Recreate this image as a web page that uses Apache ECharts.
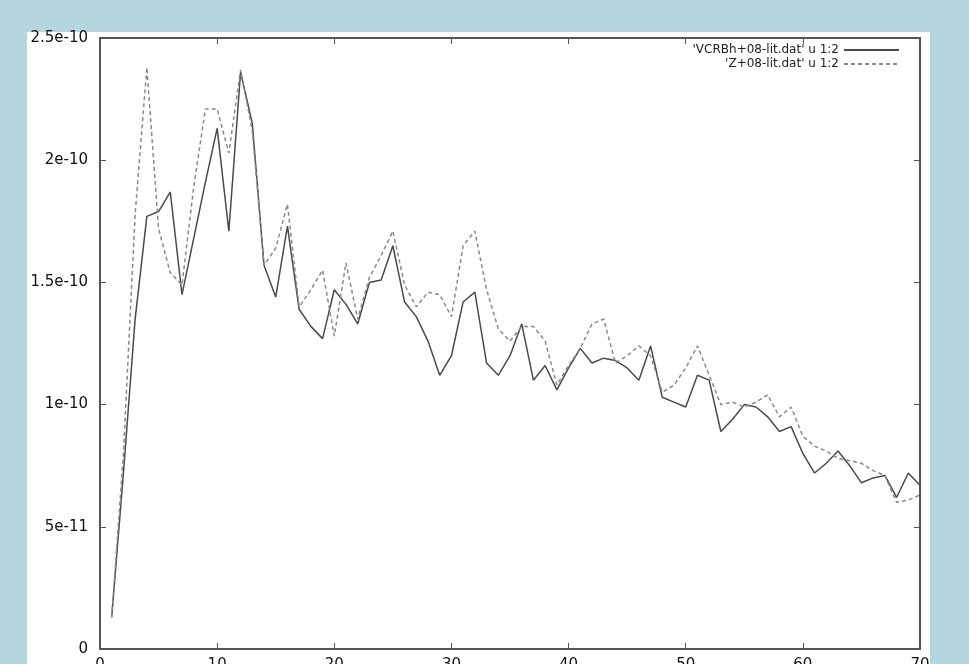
<!DOCTYPE html>
<html>
<head>
<meta charset="utf-8">
<script src="https://cdn.jsdelivr.net/npm/echarts@6/dist/echarts.min.js"></script>
<style>
html,body{margin:0;padding:0;background:#b5d5df;}
#chart{width:969px;height:664px;}
</style>
</head>
<body>
<div id="chart"></div>
<script>
// x positions (index)
const xValues = [1,2,3,4,5,6,7,8,9,10,11,12,13,14,15,16,17,18,19,20,21,22,23,24,25,26,27,28,29,30,31,32,33,34,35,36,37,38,39,40,41,42,43,44,45,46,47,48,49,50,51,52,53,54,55,56,57,58,59,60,61,62,63,64,65,66,67,68,69,70];
// values in units of 1e-10
const seriesSolid = [0.13,0.72,1.35,1.77,1.79,1.87,1.45,1.68,1.91,2.13,1.71,2.36,2.15,1.57,1.44,1.73,1.39,1.32,1.27,1.47,1.41,1.33,1.50,1.51,1.65,1.42,1.36,1.26,1.12,1.20,1.42,1.46,1.17,1.12,1.20,1.33,1.10,1.16,1.06,1.15,1.23,1.17,1.19,1.18,1.15,1.10,1.24,1.03,1.01,0.99,1.12,1.10,0.89,0.94,1.00,0.99,0.95,0.89,0.91,0.80,0.72,0.76,0.81,0.75,0.68,0.70,0.71,0.62,0.72,0.67];
const seriesDashed = [0.13,0.80,1.78,2.38,1.72,1.54,1.49,1.89,2.21,2.21,2.03,2.37,2.12,1.57,1.64,1.82,1.40,1.47,1.55,1.28,1.58,1.35,1.52,1.61,1.71,1.49,1.40,1.46,1.45,1.36,1.65,1.71,1.47,1.31,1.26,1.32,1.32,1.26,1.08,1.16,1.23,1.33,1.35,1.17,1.20,1.24,1.20,1.05,1.08,1.15,1.24,1.12,1.00,1.01,0.99,1.01,1.04,0.95,0.99,0.87,0.83,0.81,0.78,0.77,0.76,0.73,0.71,0.60,0.61,0.63];
const seriesNames = ["'VCRBh+08-lit.dat' u 1:2", "'Z+08-lit.dat' u 1:2"];
const xTickLabels = ['0','10','20','30','40','50','60','70'];
const yTickLabels = ['0','5e-11','1e-10','1.5e-10','2e-10','2.5e-10'];

const chart = echarts.init(document.getElementById('chart'));
const labelFont = {fontFamily:'DejaVu Sans', fontSize:15, color:'#111'};
const pair = arr => arr.map((v,i)=>[xValues[i], v]);
const axisLineStyle = {color:'#555', width:2};

chart.setOption({
  animation:false,
  backgroundColor:'#b5d5df',
  graphic:[{type:'rect', z:-10, silent:true, shape:{x:27,y:32,width:903,height:640}, style:{fill:'#ffffff'}}],
  grid:{left:100, right:49, top:38, bottom:15, containLabel:false, outerBoundsMode:'none', show:false},
  legend:{
    right:64, top:39, orient:'vertical', align:'right', itemGap:2,
    itemWidth:55, itemHeight:8,
    itemStyle:{opacity:0},
    textStyle:{fontFamily:'DejaVu Sans', fontSize:12, color:'#222'},
    data:seriesNames
  },
  xAxis:[
    {type:'value', min:0, max:70, interval:10, position:'bottom',
     axisLine:{show:true, onZero:false, lineStyle:axisLineStyle},
     axisTick:{show:true, inside:true, length:6, lineStyle:{color:'#555'}},
     axisLabel:Object.assign({}, labelFont, {margin:9,
       formatter:(v)=>xTickLabels[Math.round(v/10)]}),
     splitLine:{show:false}},
    {type:'value', min:0, max:70, interval:10, position:'top',
     axisLine:{show:true, onZero:false, lineStyle:axisLineStyle},
     axisTick:{show:true, inside:true, length:6, lineStyle:{color:'#555'}},
     axisLabel:{show:false}, splitLine:{show:false}}
  ],
  yAxis:[
    {type:'value', min:0, max:2.5, interval:0.5, position:'left',
     axisLine:{show:true, onZero:false, lineStyle:axisLineStyle},
     axisTick:{show:true, inside:true, length:6, lineStyle:{color:'#555'}},
     axisLabel:Object.assign({}, labelFont, {margin:12,
       formatter:(v)=>yTickLabels[Math.round(v/0.5)]}),
     splitLine:{show:false}},
    {type:'value', min:0, max:2.5, interval:0.5, position:'right',
     axisLine:{show:true, onZero:false, lineStyle:axisLineStyle},
     axisTick:{show:true, inside:true, length:6, lineStyle:{color:'#555'}},
     axisLabel:{show:false}, splitLine:{show:false}}
  ],
  series:[
    {name:seriesNames[0], type:'line', data:pair(seriesSolid), showSymbol:false, symbol:'none',
     lineStyle:{color:'#4a4a4a', width:1.5, type:'solid'}, itemStyle:{color:'#4a4a4a'}},
    {name:seriesNames[1], type:'line', data:pair(seriesDashed), showSymbol:false, symbol:'none',
     lineStyle:{color:'#8a8a8a', width:1.5, type:[4,3]}, itemStyle:{color:'#8a8a8a'}}
  ]
});
</script>
</body>
</html>
